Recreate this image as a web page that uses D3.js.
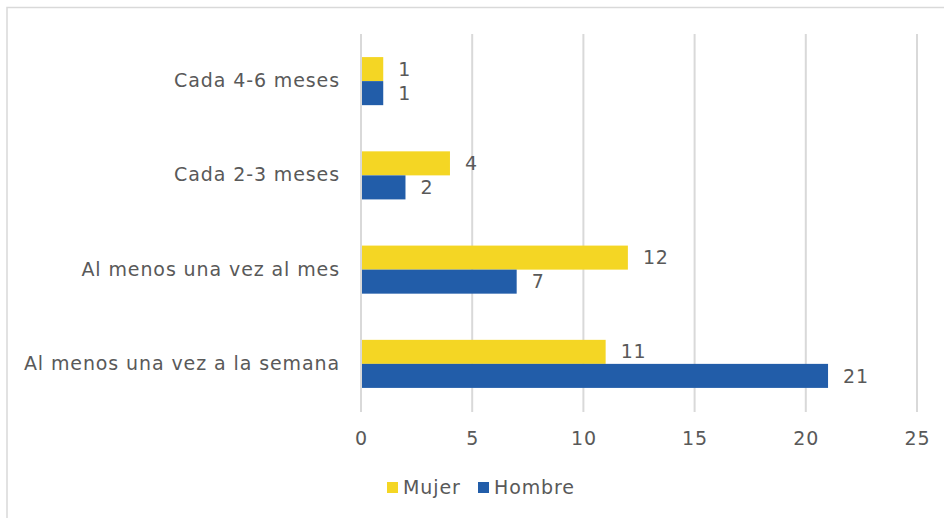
<!DOCTYPE html>
<html>
<head>
<meta charset="utf-8">
<script src="https://cdn.jsdelivr.net/npm/d3@7"></script>
<style>
  html, body { margin: 0; padding: 0; background: #fff; }
  svg { display: block; }
  text { font-family: "DejaVu Sans", sans-serif; fill: #595959; letter-spacing: 0.9px; }
</style>
</head>
<body>
<svg id="chart" width="944" height="518"></svg>
<script>
const categories = ["Cada 4-6 meses", "Cada 2-3 meses", "Al menos una vez al mes", "Al menos una vez a la semana"];
const seriesNames = ["Mujer", "Hombre"];
const mujer = [1, 4, 12, 11];
const hombre = [1, 2, 7, 21];
const xTicks = [0, 5, 10, 15, 20, 25];
const colors = ["#F4D624", "#225DA9"];

const svg = d3.select("#chart");
const W = 944, H = 518;
const margin = { left: 361, right: 27, top: 34, bottom: 107 };

// frame
svg.append("rect").attr("x", 7).attr("y", 7.5).attr("width", W + 10).attr("height", H + 10)
  .attr("fill", "none").attr("stroke", "#D9D9D9").attr("stroke-width", 1.5);

const x = d3.scaleLinear().domain([0, 25]).range([margin.left, W - margin.right]);
const y = d3.scaleBand().domain(categories).range([margin.top, H - margin.bottom]).paddingInner(0.49).paddingOuter(0.245);
const ySub = d3.scaleBand().domain(seriesNames).range([0, y.bandwidth()]);

// gridlines
svg.append("g").selectAll("line").data(xTicks).join("line")
  .attr("x1", d => x(d)).attr("x2", d => x(d))
  .attr("y1", margin.top).attr("y2", H - margin.bottom + 1)
  .attr("stroke", "#D9D9D9").attr("stroke-width", 2);

// x tick labels
const xAxis = d3.axisBottom(x).tickValues(xTicks).tickSize(0).tickPadding(0);
const gx = svg.append("g").attr("transform", `translate(0,${H - margin.bottom + 34})`).call(xAxis);
gx.select(".domain").remove();
gx.selectAll("text").attr("font-size", 19).attr("dy", "0").attr("fill", "#595959")
  .style("font-family", '"DejaVu Sans", sans-serif');

// y labels
const yAxis = d3.axisLeft(y).tickSize(0).tickPadding(21);
const gy = svg.append("g").attr("transform", `translate(${margin.left},0)`).call(yAxis);
gy.select(".domain").remove();
gy.selectAll("text").attr("font-size", 19).attr("fill", "#595959")
  .style("font-family", '"DejaVu Sans", sans-serif');

const data = categories.map((c, i) => ({ cat: c, values: [mujer[i], hombre[i]] }));

const groups = svg.append("g").selectAll("g").data(data).join("g")
  .attr("transform", d => `translate(0,${y(d.cat)})`);

groups.selectAll("rect").data(d => d.values.map((v, j) => ({ v, s: seriesNames[j], j })))
  .join("rect")
  .attr("x", x(0) + 1)
  .attr("y", d => ySub(d.s))
  .attr("width", d => x(d.v) - x(0) - 1)
  .attr("height", ySub.bandwidth())
  .attr("fill", d => colors[d.j]);

groups.selectAll("text.val").data(d => d.values.map((v, j) => ({ v, s: seriesNames[j], j })))
  .join("text").attr("class", "val")
  .attr("x", d => x(d.v) + 15)
  .attr("y", d => ySub(d.s) + ySub.bandwidth() / 2)
  .attr("dy", "0.35em")
  .attr("font-size", 19)
  .text(d => d.v);

// legend
const legend = svg.append("g");
const legX = [387, 478];
seriesNames.forEach((s, i) => {
  legend.append("rect").attr("x", legX[i]).attr("y", 482).attr("width", 11).attr("height", 11).attr("fill", colors[i]);
  legend.append("text").attr("x", legX[i] + 16).attr("y", 487.5).attr("dy", "0.35em")
    .attr("font-size", 19).text(s);
});
</script>
</body>
</html>
